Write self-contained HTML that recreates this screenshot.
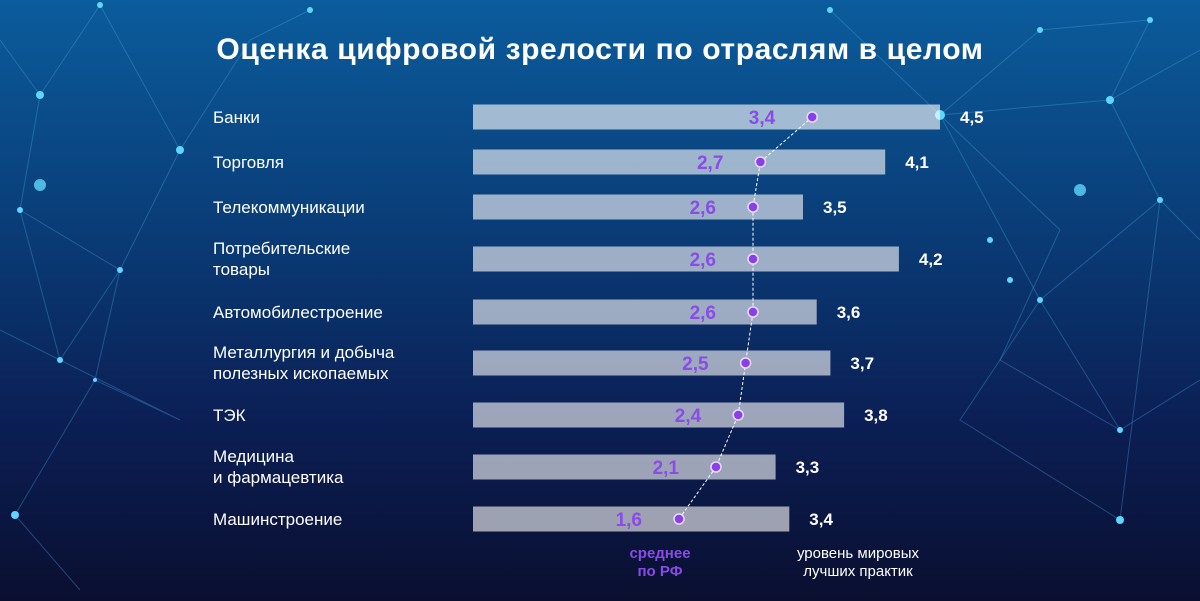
<!DOCTYPE html>
<html><head><meta charset="utf-8">
<style>
html,body{margin:0;padding:0;width:1200px;height:601px;overflow:hidden}
body{background:linear-gradient(180deg,#0b5c9c 0%,#0a3f7a 35%,#0b1f55 70%,#0a0f30 100%);font-family:"Liberation Sans","DejaVu Sans",sans-serif;position:relative}
svg{position:absolute;left:0;top:0}
</style></head><body>
<svg id="bg" width="1200" height="601">
<g stroke="#4aa8e0" stroke-opacity="0.35" stroke-width="1" fill="none">
<path d="M0 40 L40 95 L100 5 L180 150 L120 270 L60 360 L0 330"/>
<path d="M40 95 L20 210 L120 270 L95 380 L15 515 L80 590"/>
<path d="M180 150 L250 40 L310 10 M20 210 L60 360 L180 420 L95 380"/>
<path d="M1200 50 L1110 100 L1150 20 L1040 30 L940 115 L1110 100 L1160 200 L1040 300 L1120 430 L1200 380"/>
<path d="M940 115 L1040 300 L960 420 L1120 520 L1160 200 L1200 240"/>
<path d="M830 10 L940 115 L1060 230 L1000 360 L1120 430"/>
</g>
<g fill="#5fd6ff">
<circle cx="40" cy="95" r="4"/><circle cx="100" cy="5" r="3"/><circle cx="180" cy="150" r="4"/><circle cx="20" cy="210" r="3"/><circle cx="120" cy="270" r="3"/><circle cx="60" cy="360" r="3"/><circle cx="95" cy="380" r="2"/><circle cx="15" cy="515" r="4"/><circle cx="40" cy="185" r="6" opacity="0.8"/><circle cx="310" cy="10" r="3"/>
<circle cx="1110" cy="100" r="4"/><circle cx="1150" cy="20" r="3"/><circle cx="1040" cy="30" r="3"/><circle cx="940" cy="115" r="5"/><circle cx="1160" cy="200" r="3"/><circle cx="1040" cy="300" r="3"/><circle cx="1120" cy="430" r="3"/><circle cx="1120" cy="520" r="4"/><circle cx="1080" cy="190" r="6" opacity="0.8"/><circle cx="1010" cy="280" r="3"/><circle cx="830" cy="10" r="3"/><circle cx="990" cy="240" r="3"/>
</g>
</svg>
<div style="position:absolute;left:0;width:1200px;top:33px;text-align:center;color:#fff;font-weight:bold;font-size:30px;letter-spacing:0.6px">Оценка цифровой зрелости по отраслям в целом</div>
<svg id="chart" width="1200" height="601"></svg>
<div style="position:absolute;left:600px;width:120px;top:545px;text-align:center;color:#8a4be6;font-weight:bold;font-size:15px;line-height:18px">среднее<br>по РФ</div>
<div style="position:absolute;left:768px;width:180px;top:545px;text-align:center;color:#fff;font-size:15px;line-height:18px">уровень мировых<br>лучших практик</div>
<script>
const categories=[["Банки"],["Торговля"],["Телекоммуникации"],["Потребительские","товары"],["Автомобилестроение"],["Металлургия и добыча","полезных ископаемых"],["ТЭК"],["Медицина","и фармацевтика"],["Машинстроение"]];
const bestValues=[4.5,4.1,3.5,4.2,3.6,3.7,3.8,3.3,3.4];
const avgValues=[3.4,2.7,2.6,2.6,2.6,2.5,2.4,2.1,1.6];
const rowCenters=[117,162,207,259,312,363,415,467,519];
const NS="http://www.w3.org/2000/svg";
const svg=document.getElementById('chart');
const barX=v=>323.5+v*137;
const dotX=v=>679+(v-1.6)*74;
const fmt=v=>v.toFixed(1).replace('.',',');
function mk(t,a){const e=document.createElementNS(NS,t);for(const k in a)e.setAttribute(k,a[k]);svg.appendChild(e);return e;}
let pts=[];
categories.forEach((c,i)=>{
 const y=rowCenters[i];
 const b=mk('rect',{x:473,y:y-12.5,width:barX(bestValues[i])-473,height:25,fill:'#ffffff','fill-opacity':i==0?0.62:0.6});
 
 
 const lab=mk('text',{x:213,y:c.length>1?y-5:y+6,fill:'#fff','font-size':17,'font-family':'Liberation Sans, sans-serif'});
 
 
 c.forEach((s,j)=>{const ts=document.createElementNS(NS,'tspan');ts.setAttribute('x',213);if(j>0)ts.setAttribute('dy',21);ts.textContent=s;lab.appendChild(ts);});
 const bv=mk('text',{x:barX(bestValues[i])+20,y:y+6,fill:'#fff','font-size':17,'font-weight':'bold'});
 bv.textContent=fmt(bestValues[i]);
 
 
 const dx=dotX(avgValues[i]);
 pts.push(dx+','+y);
 const av=mk('text',{x:dx-37,y:y+7,fill:'#8a4be6','font-size':19,'font-weight':'bold','text-anchor':'end'});
 av.textContent=fmt(avgValues[i]);
 
 
});
const line=mk('polyline',{points:pts.join(' '),fill:'none',stroke:'#fff','stroke-width':1,'stroke-dasharray':'3,2'});


avgValues.forEach((v,i)=>{
 const d=mk('circle',{cx:dotX(v),cy:rowCenters[i],r:5,fill:'#8a3fe8',stroke:'#e8dcff','stroke-width':1.5});
 
 
});
</script>
</body></html>
